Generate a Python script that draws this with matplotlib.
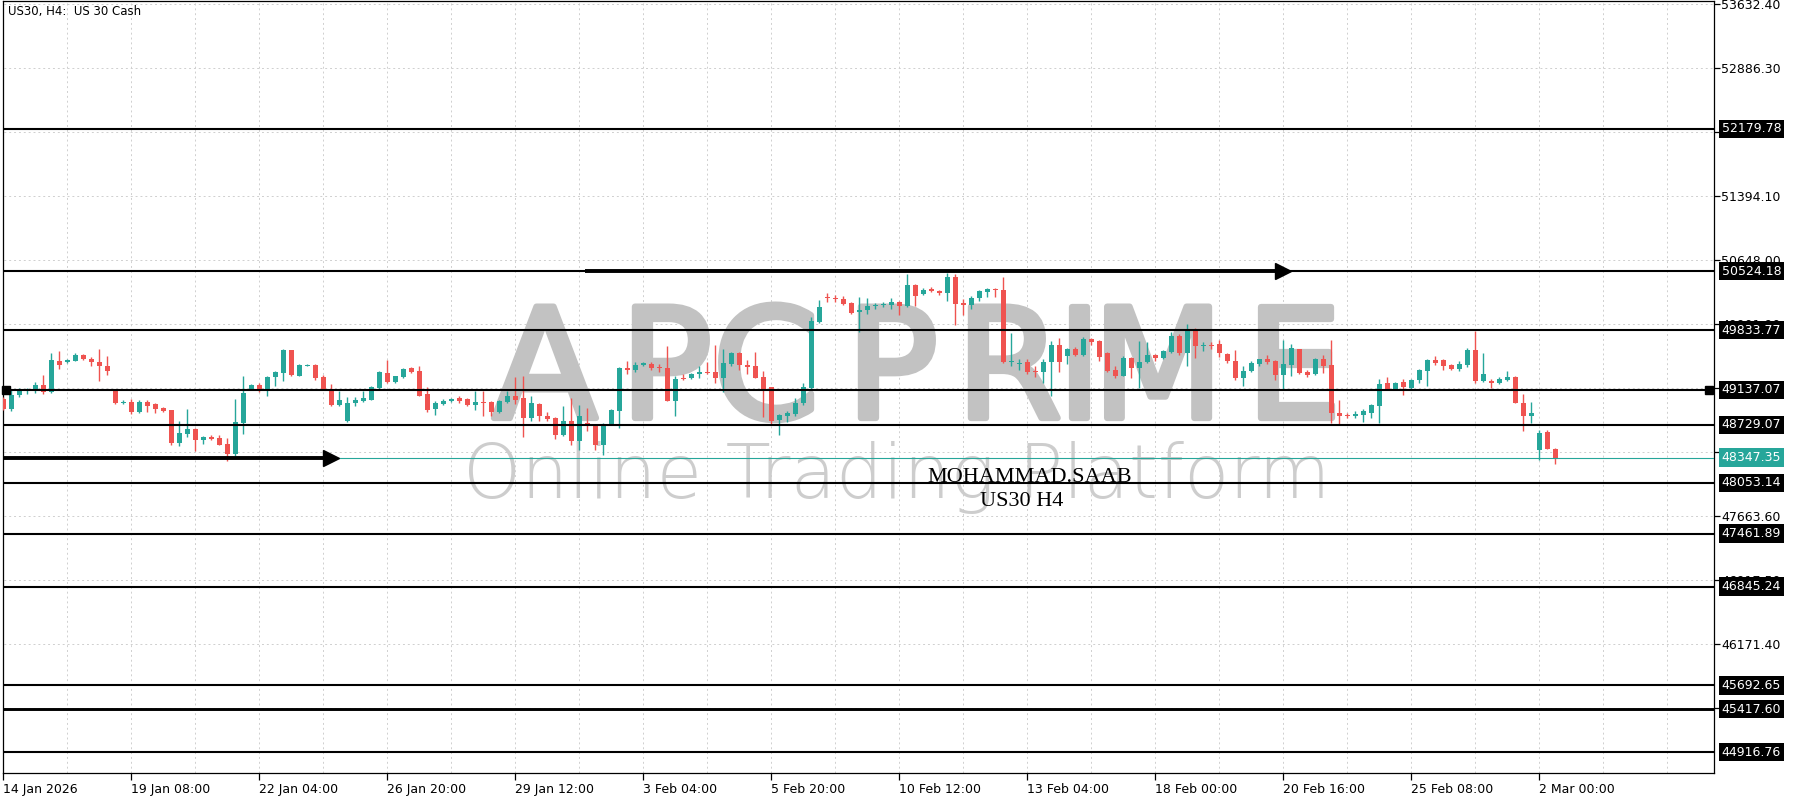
import matplotlib
matplotlib.use("Agg")
import matplotlib.pyplot as plt
import matplotlib.transforms as mtransforms
import matplotlib.patheffects as pe
import numpy as np

# ---------------- data ----------------
opens = [49032, 48915, 49082, 49129, 49141, 49195, 49117, 49475, 49459, 49479,
         49545, 49498, 49467, 49421, 49129, 48985, 49001, 48884, 49001, 48974,
         48931, 48904, 48519, 48624, 48682, 48550, 48593, 48573, 48507, 48391,
         48752, 49145, 49195, 49148, 49285, 49331, 49607, 49304, 49421, 49432,
         49285, 49141, 48962, 48779, 48985, 49012, 49024, 49160, 49335, 49226,
         49285, 49389, 49362, 49090, 48915, 48978, 49009, 49040, 49032, 48962,
         49001, 49001, 48876, 49001, 49071, 49040, 48807, 48974, 48838, 48807,
         48612, 48775, 48546, 48748, 48721, 48496, 48740, 48896, 49389, 49374,
         49428, 49440, 49401, 49393, 49012, 49273, 49273, 49323, 49351, 49343,
         49277, 49440, 49568, 49432, 49413, 49292, 49168, 48791, 48838, 48857,
         48985, 49157, 49934, 50218, 50214, 50199, 50152, 50043, 50074, 50113,
         50129, 50129, 50168, 50113, 50362, 50257, 50315, 50292, 50265, 50451,
         50152, 50129, 50206, 50276, 50315, 50304, 49468, 49437, 49460, 49363,
         49344, 49468, 49662, 49538, 49616, 49546, 49732, 49709, 49569, 49375,
         49305, 49511, 49398, 49460, 49546, 49511, 49585, 49763, 49569, 49830,
         49647, 49662, 49670, 49557, 49480, 49282, 49360, 49437, 49495, 49476,
         49309, 49426, 49612, 49348, 49321, 49495, 49426, 48874, 48847, 48835,
         48843, 48866, 48951, 49223, 49154, 49231, 49165, 49255, 49360, 49484,
         49484, 49426, 49379, 49426, 49600, 49243, 49243, 49216, 49255, 49293,
         48990, 48835, 48439, 48652, 48454]
highs = [49051, 49148, 49156, 49164, 49226, 49312, 49568, 49588, 49498, 49564,
         49553, 49518, 49615, 49529, 49137, 49024, 49032, 49024, 49024, 48985,
         48939, 48908, 48779, 48915, 48690, 48597, 48612, 48612, 48573, 49032,
         49304, 49207, 49218, 49304, 49362, 49615, 49607, 49440, 49436, 49444,
         49312, 49207, 49129, 49051, 49051, 49129, 49180, 49362, 49487, 49304,
         49389, 49405, 49413, 49168, 49012, 49032, 49040, 49071, 49040, 49129,
         49129, 49012, 49020, 49129, 49292, 49304, 49071, 48985, 48876, 48818,
         48946, 49048, 48962, 48923, 48740, 48752, 48915, 49401, 49479, 49459,
         49459, 49467, 49440, 49654, 49304, 49323, 49331, 49413, 49467, 49665,
         49615, 49576, 49584, 49490, 49584, 49362, 49168, 48857, 48896, 49040,
         49218, 49985, 50191, 50265, 50245, 50238, 50160, 50226, 50206, 50152,
         50160, 50206, 50179, 50490, 50374, 50323, 50335, 50307, 50502, 50490,
         50199, 50238, 50307, 50323, 50323, 50451, 49802, 49499, 49499, 49414,
         49499, 49713, 49744, 49623, 49635, 49752, 49740, 49721, 49577, 49421,
         49538, 49526, 49713, 49701, 49557, 49604, 49818, 49791, 49907, 49857,
         49693, 49693, 49721, 49569, 49608, 49421, 49476, 49503, 49542, 49488,
         49721, 49670, 49620, 49371, 49515, 49542, 49721, 49021, 48866, 48893,
         48920, 48971, 49262, 49293, 49231, 49262, 49262, 49379, 49495, 49534,
         49495, 49437, 49476, 49632, 49826, 49573, 49270, 49293, 49360, 49301,
         49087, 48998, 48672, 48672, 48466]
lows = [48908, 48896, 49051, 49090, 49102, 49086, 49102, 49382, 49448, 49471,
        49490, 49413, 49238, 49316, 48978, 48970, 48853, 48869, 48876, 48869,
        48884, 48500, 48488, 48585, 48430, 48507, 48554, 48496, 48313, 48371,
        48624, 49137, 49110, 49063, 49187, 49246, 49304, 49296, 49413, 49257,
        49141, 48954, 48946, 48768, 48946, 49001, 49016, 49148, 49215, 49215,
        49277, 49335, 49063, 48884, 48845, 48962, 48993, 48985, 48946, 48908,
        48830, 48838, 48869, 48985, 48974, 48585, 48779, 48779, 48779, 48566,
        48604, 48500, 48441, 48663, 48441, 48379, 48729, 48690, 49323, 49351,
        49413, 49374, 49343, 49012, 48830, 49257, 49265, 49273, 49323, 49218,
        49117, 49421, 49374, 49323, 49273, 48818, 48740, 48612, 48768, 48830,
        48962, 49149, 49919, 50168, 50160, 50129, 50024, 49818, 50024, 50082,
        50102, 50082, 50012, 50102, 50113, 50245, 50276, 50245, 50179, 49896,
        50012, 50082, 50179, 50218, 50218, 49453, 49414, 49375, 49324, 49285,
        49219, 49072, 49352, 49441, 49530, 49538, 49662, 49480, 49344, 49278,
        49297, 49274, 49157, 49453, 49472, 49499, 49569, 49546, 49421, 49511,
        49596, 49616, 49519, 49453, 49258, 49188, 49348, 49418, 49437, 49255,
        49146, 49301, 49321, 49293, 49309, 49332, 48749, 48738, 48816, 48816,
        48765, 48816, 48749, 49138, 49138, 49076, 49154, 49216, 49185, 49426,
        49371, 49371, 49360, 49406, 49224, 49231, 49165, 49204, 49243, 48983,
        48660, 48749, 48322, 48446, 48271]
closes = [48915, 49079, 49129, 49148, 49195, 49117, 49487, 49428, 49490, 49545,
          49498, 49459, 49413, 49362, 48985, 49001, 48884, 49001, 48946, 48915,
          48896, 48515, 48632, 48682, 48550, 48589, 48566, 48500, 48391, 48768,
          49102, 49195, 49141, 49292, 49343, 49607, 49316, 49428, 49428, 49277,
          49148, 48962, 49020, 48985, 49020, 49044, 49168, 49343, 49234, 49296,
          49382, 49351, 49071, 48908, 48985, 49012, 49032, 49009, 48962, 49001,
          48985, 48876, 49012, 49071, 49024, 48807, 48985, 48830, 48799, 48612,
          48775, 48546, 48838, 48721, 48496, 48740, 48904, 49389, 49370, 49428,
          49448, 49389, 49389, 49012, 49265, 49265, 49323, 49351, 49335, 49277,
          49452, 49568, 49428, 49401, 49277, 49148, 48779, 48845, 48869, 48985,
          49168, 49946, 50102, 50206, 50203, 50140, 50035, 50074, 50113, 50129,
          50136, 50160, 50113, 50362, 50238, 50307, 50292, 50265, 50451, 50140,
          50129, 50206, 50288, 50315, 50300, 49468, 49480, 49453, 49352, 49344,
          49468, 49662, 49460, 49616, 49546, 49732, 49701, 49526, 49363, 49297,
          49511, 49394, 49460, 49550, 49507, 49589, 49763, 49569, 49830, 49647,
          49662, 49647, 49565, 49480, 49274, 49355, 49457, 49495, 49464, 49309,
          49437, 49632, 49332, 49309, 49495, 49418, 48866, 48835, 48835, 48854,
          48893, 48959, 49212, 49154, 49223, 49177, 49255, 49367, 49484, 49457,
          49418, 49379, 49437, 49604, 49243, 49321, 49224, 49262, 49293, 48990,
          48835, 48874, 48641, 48454, 48347.35]

x_tick_labels = ["14 Jan 2026", "19 Jan 08:00", "22 Jan 04:00", "26 Jan 20:00",
                 "29 Jan 12:00", "3 Feb 04:00", "5 Feb 20:00", "10 Feb 12:00",
                 "13 Feb 04:00", "18 Feb 00:00", "20 Feb 16:00", "25 Feb 08:00",
                 "2 Mar 00:00"]
bars_per_label = 16
bars_per_grid = 8

price_ticks = [53632.40, 52886.30, 52140.20, 51394.10, 50648.00, 49901.90,
               49155.80, 48409.70, 47663.60, 46917.50, 46171.40, 45425.30]

levels = [52179.78, 50524.18, 49833.77, 49137.07, 48729.07, 48053.14,
          47461.89, 46845.24, 45692.65, 45417.60, 44916.76]
current_price = 48347.35

# arrows: (start bar, head bar, price)
arrows = [(72.75, 160.0, 50524.18), (-1.0, 41.0, 48347.35)]

title_text = "US30, H4:  US 30 Cash"
label_line1 = "MOHAMMAD.SAAB"
label_line2 = "US30 H4"
wm_letters = ["A", "P", "C", "P", "R", "I", "M", "E"]
wm_centers_px = [545, 666, 766, 892, 1009, 1080, 1158, 1294]
wm_sub = "Online Trading Platform"

TEAL = "#26a69a"
RED = "#ef5350"

# ---------------- figure ----------------
W, H = 1800, 800
fig = plt.figure(figsize=(18, 8), dpi=100)
fig.patch.set_facecolor("white")
ax_left, ax_right, ax_top, ax_bot = 3, 1714, 1, 773
ax = fig.add_axes([ax_left / W, (H - ax_bot) / H, (ax_right - ax_left) / W, (ax_bot - ax_top) / H])
ax.set_facecolor("white")

ax.set_xlim(-0.05, (ax_right - ax_left) / 8 - 0.05)
ax.set_ylim(44672.0, 53672.0)

for s in ax.spines.values():
    s.set_color("black")
    s.set_linewidth(0.9)

# grid
n_bars = len(opens)
grid_x = np.arange(0, 214, bars_per_grid)
ax.vlines(grid_x, 44672.0, 53672.0, colors="#cfcfcf", linestyles=(0, (2, 3)), lw=0.7, zorder=1)
ax.hlines(price_ticks, -1, 220, colors="#cfcfcf", linestyles=(0, (2, 3)), lw=0.7, zorder=1)

# candles
o = np.array(opens, float); c = np.array(closes, float)
hi = np.array(highs, float); lo = np.array(lows, float)
xs = np.arange(n_bars)
cols = np.where(c >= o, TEAL, RED)
ax.vlines(xs, lo, hi, colors=cols, lw=1.0, zorder=3)
body_bottom = np.minimum(o, c)
body_h = np.maximum(np.abs(c - o), 12.0)
ax.bar(xs, body_h, bottom=body_bottom, width=0.66, color=cols, lw=0, zorder=3)

# current price line
ax.axhline(current_price, color=TEAL, lw=0.8, zorder=4)

# levels
for lv in levels:
    lw = 2.1 if abs(lv - 45417.60) < 1 else 1.5
    ax.axhline(lv, color="black", lw=lw, zorder=4)

# arrows
for x0, x1, p in arrows:
    ax.plot([x0, x1 - 0.6], [p, p], color="black", lw=2.8, solid_capstyle="butt", zorder=5)
    ax.plot([x1], [p], marker=">", ms=11, color="black", mec="black", zorder=5)

# small square markers on the 49137.07 level
ax.plot([0.35], [49137.07], marker="s", ms=5.5, color="black", zorder=5, clip_on=False)
ax.plot([213.2], [49137.07], marker="s", ms=5.5, color="black", zorder=5, clip_on=False)

# axes ticks
ax.yaxis.tick_right()
ax.set_yticks(price_ticks)
ax.set_yticklabels([f"{v:.2f}" for v in price_ticks])
ax.tick_params(axis="y", length=4, width=0.9, pad=1, labelsize=9, colors="black")
xt = [i * bars_per_label for i in range(len(x_tick_labels))]
ax.set_xticks(xt)
ax.set_xticklabels(x_tick_labels)
ax.tick_params(axis="x", length=5, width=0.9, pad=2, labelsize=9, colors="black")
for lbl in ax.get_xticklabels():
    lbl.set_ha("left")

# right side boxes
trans = mtransforms.blended_transform_factory(ax.transAxes, ax.transData)
xbox = 1 + 7.5 / (ax_right - ax_left)
for lv in levels:
    ax.text(xbox, lv, f"{lv:.2f}", transform=trans, ha="left", va="center", fontsize=9,
            color="white", clip_on=False, zorder=20,
            bbox=dict(boxstyle="square,pad=0.22", fc="black", ec="none"))
ax.text(xbox, current_price, f"{current_price:.2f}", transform=trans, ha="left", va="center",
        fontsize=9, color="white", clip_on=False, zorder=21,
        bbox=dict(boxstyle="square,pad=0.22", fc=TEAL, ec="none"))

# title
fig.text(8 / W, 1 - 12 / H, title_text, fontsize=8.5, va="center", ha="left", color="black")

# watermark (drawn in the axes, beneath candles and levels)
wm_color = "#c2c2c2"
for ch, cx in zip(wm_letters, wm_centers_px):
    ax.text(cx / W * 0 + (cx - ax_left) / (ax_right - ax_left), 1 - (418 - ax_top) / (ax_bot - ax_top),
            ch, transform=ax.transAxes, fontsize=110, family="DejaVu Sans", color=wm_color,
            ha="center", va="baseline", zorder=2,
            path_effects=[pe.withStroke(linewidth=4.5, foreground=wm_color)])
sub = ax.text((463 - ax_left) / (ax_right - ax_left), 1 - (498 - ax_top) / (ax_bot - ax_top), wm_sub,
              transform=ax.transAxes, fontsize=46, family="DejaVu Sans", fontweight="light",
              color="#cdcdcd", ha="left", va="baseline", zorder=2)
fig.canvas.draw()
bb = sub.get_window_extent()
target_w = 1329 - 463
sub.set_fontsize(46 * target_w / bb.width)

fig.text(1030 / W, 1 - 478 / H, label_line1, fontsize=16, family="Liberation Serif",
         color="black", ha="center", va="center", zorder=31)
fig.text(1022 / W, 1 - 501 / H, label_line2, fontsize=16, family="Liberation Serif",
         color="black", ha="center", va="center", zorder=31)

fig.savefig("out.png", dpi=100, facecolor="white")
